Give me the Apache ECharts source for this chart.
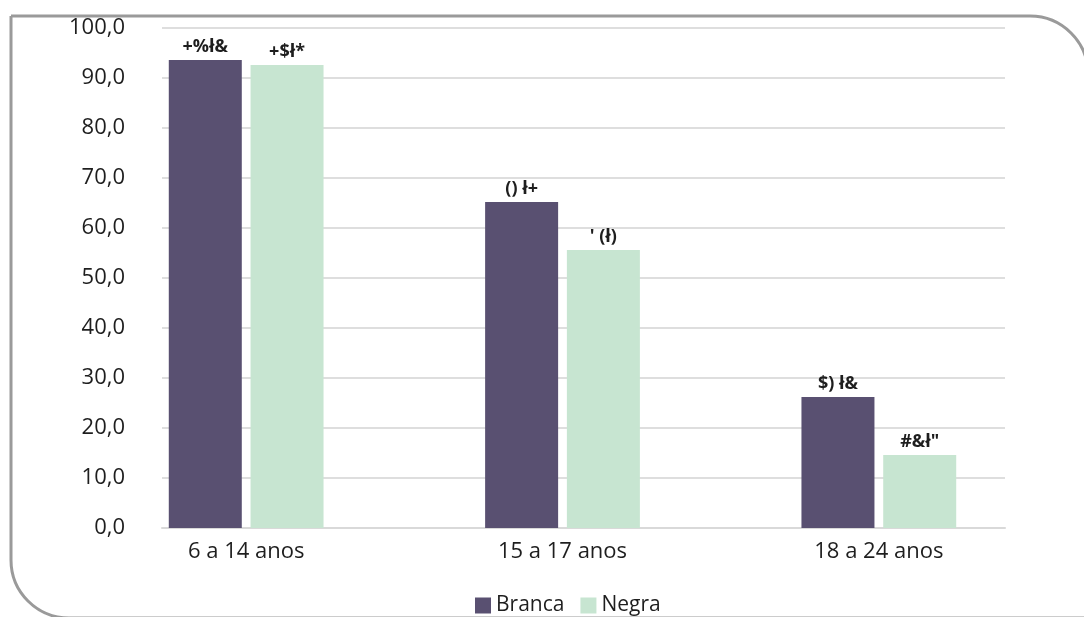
<!DOCTYPE html>
<html>
<head>
<meta charset="utf-8">
<script src="https://cdn.jsdelivr.net/npm/echarts@6/dist/echarts.min.js"></script>
<style>
html,body{margin:0;padding:0;background:#fff;}
#chart{width:1084px;height:617px;}
</style>
</head>
<body>
<div id="chart"></div>
<script>
const categories = ['6 a 14 anos', '15 a 17 anos', '18 a 24 anos'];
const seriesNames = ['Branca', 'Negra'];
const branca = [93.6, 65.2, 26.2];
const negra = [92.6, 55.6, 14.6];
const brancaLabels = ['+%ł&', '() ł+', '$) ł&'];
const negraLabels = ['+$ł*', '\' (ł)', '#&ł"'];
const yTicks = { min: 0, max: 100, interval: 10 };
const colors = ['#595071', '#c7e5d1'];

const font = '"Open Sans", "Noto Sans", sans-serif';
const chart = echarts.init(document.getElementById('chart'));

function labelFor(arr) {
  return {
    show: true,
    position: 'top',
    distance: 4,
    color: '#1e1e1e',
    fontFamily: font,
    fontWeight: 'bold',
    fontSize: 18,
    formatter: p => arr[p.dataIndex]
  };
}

chart.setOption({
  animation: false,
  backgroundColor: '#fff',
  graphic: [{
    type: 'rect',
    silent: true,
    z: 100,
    shape: { x: 11, y: 16, width: 1077, height: 602, r: [0, 58, 0, 58] },
    style: { fill: 'none', stroke: '#9a9a9a', lineWidth: 3 }
  }],
  legend: {
    left: 470,
    top: 590,
    itemWidth: 16,
    itemHeight: 16,
    itemGap: 16,
    icon: 'rect',
    textStyle: { fontFamily: font, fontSize: 21, color: '#1e1e1e' },
    data: seriesNames
  },
  grid: [
    { left: 162, right: 79, top: 28, bottom: 89 },
    { left: 88, width: 949, top: 28, bottom: 89 }
  ],
  xAxis: [
    {
      type: 'category', gridIndex: 0, data: [''],
      axisLine: { show: true, lineStyle: { color: '#d9d9d9', width: 2 } },
      axisTick: { show: false }, axisLabel: { show: false }
    },
    {
      type: 'category', gridIndex: 1, data: categories,
      axisLine: { show: false }, axisTick: { show: false },
      axisLabel: { color: '#1e1e1e', fontFamily: font, fontSize: 22, margin: 13 }
    }
  ],
  yAxis: [
    {
      type: 'value', gridIndex: 0,
      min: yTicks.min, max: yTicks.max, interval: yTicks.interval,
      axisLine: { show: false }, axisTick: { show: false },
      splitLine: { show: true, lineStyle: { color: '#dedede', width: 2 } },
      axisLabel: {
        color: '#1e1e1e', fontFamily: font, fontSize: 22, margin: 37,
        padding: [4, 0, 0, 0],
        formatter: v => v.toFixed(1).replace('.', ',')
      }
    },
    {
      type: 'value', gridIndex: 1,
      min: yTicks.min, max: yTicks.max, interval: yTicks.interval,
      show: false, splitLine: { show: false }
    }
  ],
  series: [
    {
      name: seriesNames[0], type: 'bar', xAxisIndex: 1, yAxisIndex: 1,
      data: branca, barWidth: 73, barGap: '12%',
      itemStyle: { color: colors[0] },
      label: labelFor(brancaLabels)
    },
    {
      name: seriesNames[1], type: 'bar', xAxisIndex: 1, yAxisIndex: 1,
      data: negra, barWidth: 73, barGap: '12%',
      itemStyle: { color: colors[1] },
      label: labelFor(negraLabels)
    }
  ]
});
</script>
</body>
</html>
